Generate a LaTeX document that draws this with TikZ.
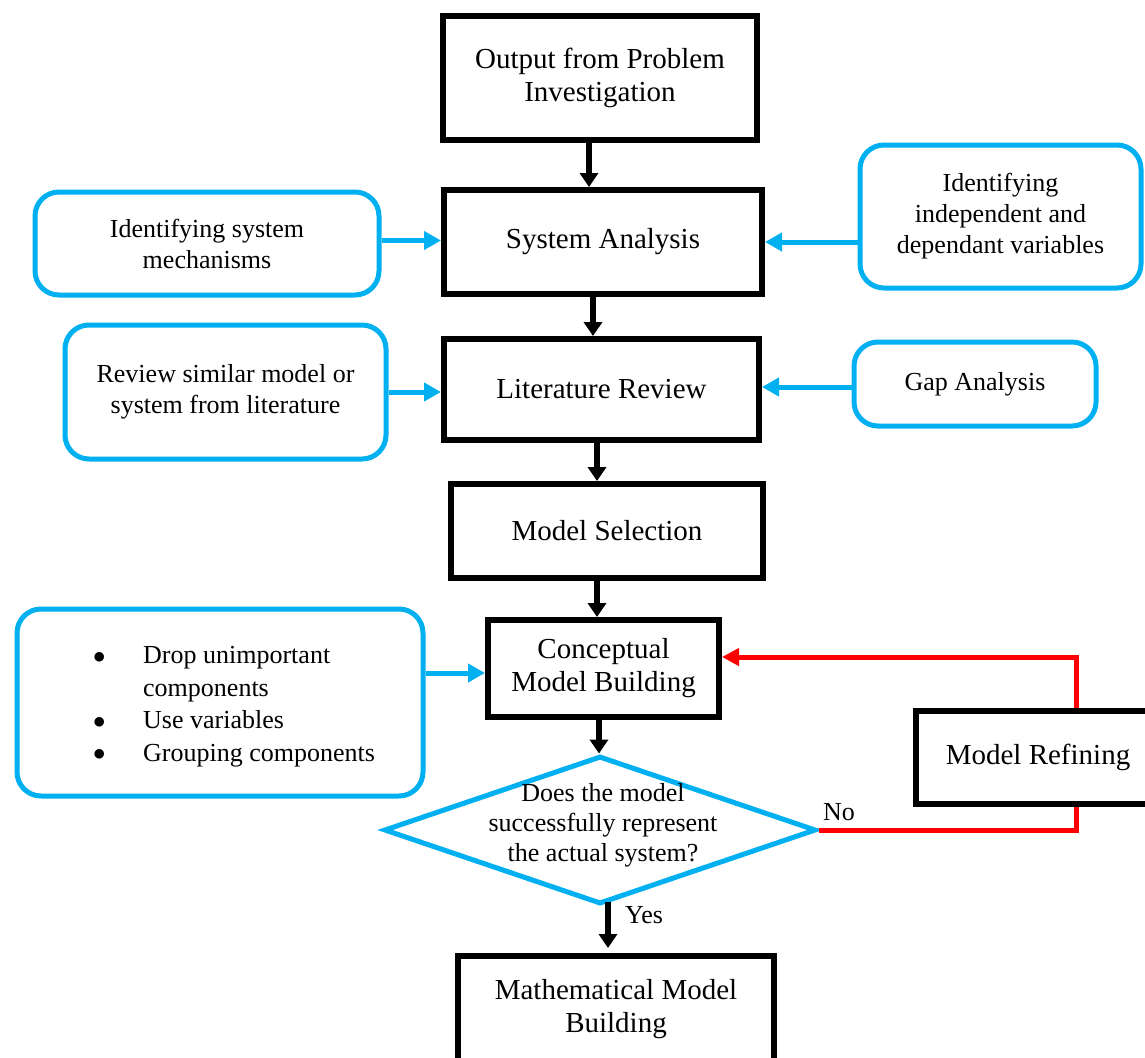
\documentclass[tikz,border=0pt]{standalone}
\usepackage{fontspec}
\setmainfont{Liberation Serif}
\usetikzlibrary{arrows.meta,shapes.geometric}
\definecolor{flowblue}{HTML}{00B0F0}
\definecolor{flowred}{HTML}{FF0000}
\newcommand{\listdot}{\raisebox{0.5pt}{\fontsize{36pt}{36pt}\selectfont$\bullet$}}
\tikzset{
  mainfont/.style={font=\fontsize{29pt}{33pt}\selectfont},
  notefont/.style={font=\fontsize{26pt}{31pt}\selectfont},
  stepbox/.style={draw=black, line width=6pt, fill=white, rectangle, inner sep=0pt, align=center, mainfont},
  notebox/.style={draw=flowblue, line width=5pt, fill=white, rounded corners=24pt, inner sep=0pt, align=center, notefont},
  decision/.style={diamond, draw=flowblue, line width=5pt, fill=white, inner sep=0pt},
  flowarrow/.style={draw=black, line width=6pt, -{Triangle[width=18pt,length=14pt]}},
  notearrow/.style={draw=flowblue, line width=5pt, -{Triangle[width=18pt,length=17pt]}},
  loopline/.style={draw=flowred, line width=5pt, -{Triangle[width=17pt,length=17pt]}},
  tag/.style={notefont, inner sep=0pt, anchor=base west},
}
\begin{document}
\begin{tikzpicture}[x=1pt, y=-1pt]
\useasboundingbox (0,0) rectangle (1145,1057);
\clip (0,0) rectangle (1145,1057);

% main process column
\node[stepbox, minimum width=314pt, minimum height=124pt] (out) at (600,78) {Output from Problem\\Investigation};
\node[stepbox, minimum width=318pt, minimum height=104pt] (sys) at (603,242) {System Analysis};
\node[stepbox, minimum width=315pt, minimum height=101pt] (lit) at (601.5,389.5) {Literature Review};
\node[stepbox, minimum width=312pt, minimum height=94pt] (sel) at (607,531) {Model Selection};
\node[stepbox, minimum width=231pt, minimum height=97pt] (con) at (603.5,668.5) {Conceptual\\Model Building};
\node[decision, minimum width=432pt, minimum height=148pt] (dec) at (600,830) {};
\node[notefont, align=center, font=\fontsize{26pt}{30pt}\selectfont] (question) at (603,825) {Does the model\\successfully represent\\the actual system?};
\node[stepbox, minimum width=316pt, minimum height=106pt] (math) at (616,1009) {Mathematical Model\\Building};

% side notes
\node[notebox, minimum width=344pt, minimum height=103pt] (mech) at (207,243.5) {Identifying system\\mechanisms};
\node[notebox, minimum width=281pt, minimum height=143pt] (indep) at (1000.5,216.5) {Identifying\\independent and\\dependant variables};
\node[notebox, minimum width=321pt, minimum height=134pt] (rev) at (225.5,392) {Review similar model or\\system from literature};
\node[notebox, minimum width=242pt, minimum height=84pt] (gap) at (975,384) {Gap Analysis};
\node[notebox, minimum width=406pt, minimum height=187pt] (bul) at (220,702.5) {};
\node[notefont, font=\fontsize{26pt}{32.5pt}\selectfont, anchor=west, inner sep=0pt] (list) at (93,706)
  {\begin{tabular}{@{}p{50pt}@{}l@{}}
   \smash{\listdot} & Drop unimportant\\
                    & components\\
   \smash{\listdot} & Use variables\\
   \smash{\listdot} & Grouping components
   \end{tabular}};

% main flow arrows
\draw[flowarrow] ([xshift=-11pt]out.south) -- ([xshift=-11pt]out.south |- sys.north);
\draw[flowarrow] ([xshift=-10pt]sys.south) -- ([xshift=-10pt]sys.south |- lit.north);
\draw[flowarrow] ([xshift=-4.5pt]lit.south) -- ([xshift=-4.5pt]lit.south |- sel.north);
\draw[flowarrow] ([xshift=-10pt]sel.south) -- ([xshift=-10pt]sel.south |- con.north);
\draw[flowarrow] ([xshift=-4.5pt]con.south) -- ([xshift=-4.5pt]con.south |- dec.north);
\draw[flowarrow] ([xshift=8pt,yshift=5pt]dec.south) -- ([xshift=8pt,yshift=5pt]dec.south |- math.north);

% note arrows
\draw[notearrow] ([yshift=3pt]mech.east) -- ([yshift=3pt]mech.east -| sys.west);
\draw[notearrow] (indep.west |- sys.east) -- (sys.east);
\draw[notearrow] (rev.east) -- (rev.east -| lit.west);
\draw[notearrow] ([yshift=-3pt]gap.west) -- ([yshift=-3pt]gap.west -| lit.east);
\draw[notearrow] ([yshift=-4.5pt]con.west -| bul.east) -- ([yshift=-4.5pt]con.west);

% refinement loop
\coordinate (loop) at (1076,657);
\draw[loopline, line join=miter] (dec.east) -| (loop) -- (loop -| con.east);
\node[stepbox, minimum width=244pt, minimum height=93pt] (ref) at (1038,757.5) {Model Refining};

% branch labels
\node[tag] (no) at (823,820) {No};
\node[tag] (yes) at (625,923) {Yes};
\end{tikzpicture}
\end{document}
